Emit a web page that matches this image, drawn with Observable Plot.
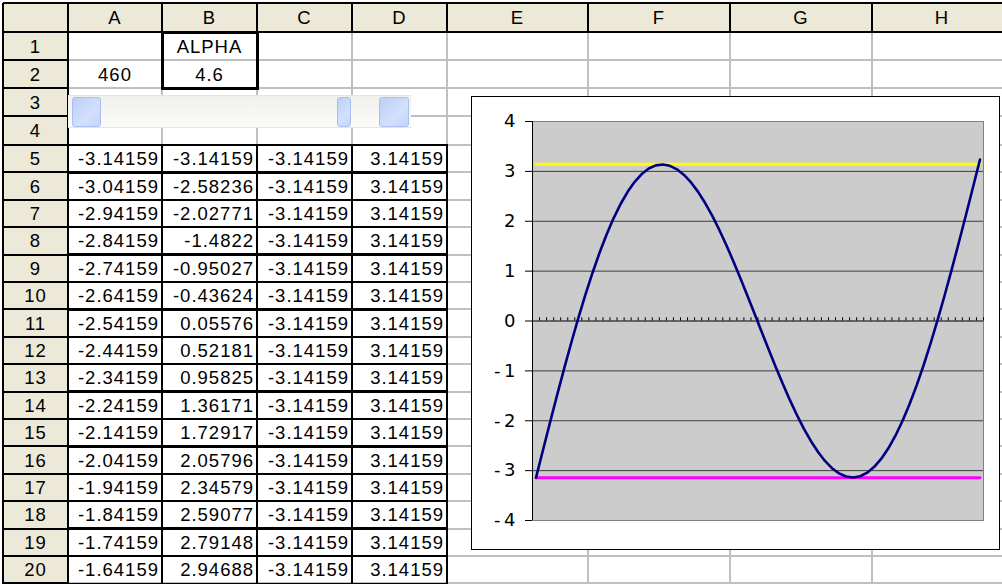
<!DOCTYPE html>
<html>
<head>
<meta charset="utf-8">
<script src="https://cdn.jsdelivr.net/npm/d3@7"></script>
<script src="https://cdn.jsdelivr.net/npm/@observablehq/plot@0.6"></script>
<style>
  body { margin: 0; background: #fff; }
  #sheet {
    position: relative; width: 1002px; height: 584px; overflow: hidden;
    font-family: "Liberation Sans", Arial, sans-serif; font-size: 18.5px;
    letter-spacing: 1px; color: #000;
  }
  .abs { position: absolute; box-sizing: border-box; }
  #chart { position: absolute; left: 471px; top: 96px; border: 1px solid #000; background: #fff; line-height: 0; }
</style>
</head>
<body>
<div id="sheet"></div>
<script>
// ---- worksheet contents ----
const columnLetters = ["A", "B", "C", "D", "E", "F", "G", "H"];
const rowNumbers = [1, 2, 3, 4, 5, 6, 7, 8, 9, 10, 11, 12, 13, 14, 15, 16, 17, 18, 19, 20];
const alphaLabel = "ALPHA";
const alpha = 4.6;
const sliderValue = 460;

// column A: angle samples
const colA = [
  -3.14159, -3.04159, -2.94159, -2.84159, -2.74159, -2.64159, -2.54159, -2.44159,
  -2.34159, -2.24159, -2.14159, -2.04159, -1.94159, -1.84159, -1.74159, -1.64159,
  -1.54159, -1.44159, -1.34159, -1.24159, -1.14159, -1.04159, -0.94159, -0.84159,
  -0.74159, -0.64159, -0.54159, -0.44159, -0.34159, -0.24159, -0.14159, -0.04159,
  0.05841, 0.15841, 0.25841, 0.35841, 0.45841, 0.55841, 0.65841, 0.75841,
  0.85841, 0.95841, 1.05841, 1.15841, 1.25841, 1.35841, 1.45841, 1.55841,
  1.65841, 1.75841, 1.85841, 1.95841, 2.05841, 2.15841, 2.25841, 2.35841,
  2.45841, 2.55841, 2.65841, 2.75841, 2.85841, 2.95841, 3.05841, 3.15841
];
// column B: curve values
const colB = [
  -3.14159, -2.58236, -2.02771, -1.4822, -0.95027, -0.43624, 0.05576, 0.52181,
  0.95825, 1.36171, 1.72917, 2.05796, 2.34579, 2.59077, 2.79148, 2.94688,
  3.05645, 3.12007, 3.13811, 3.11139, 3.04118, 2.92917, 2.77749, 2.58865,
  2.36554, 2.11138, 1.82972, 1.52436, 1.19936, 0.85896, 0.50756, 0.14968,
  -0.21011, -0.56722, -0.91708, -1.25519, -1.57718, -1.87884, -2.15614, -2.40532,
  -2.62288, -2.80567, -2.95084, -3.05595, -3.11896, -3.13823, -3.11257, -3.04124,
  -2.92395, -2.76087, -2.55264, -2.30034, -2.00548, -1.67002, -1.29631, -0.88708,
  -0.44542, 0.02526, 0.52124, 1.03858, 1.57310, 2.12046, 2.67620, 3.23575
];
// columns C and D: lower and upper bounds
const lowerBound = -3.14159;
const upperBound = 3.14159;
const colC = colA.map(() => lowerBound);
const colD = colA.map(() => upperBound);
const yTicks = [-4, -3, -2, -1, 0, 1, 2, 3, 4];

const rows = colA.map((a, i) => ({i, a, b: colB[i], c: colC[i], d: colD[i]}));
const visibleRows = rows.slice(0, 16); // rows 5..20 of the sheet

// ---- worksheet layout ----
const colEdges = [3, 68, 162, 257, 352, 447, 588, 730, 872, 1012];
const headerBottom = 32;
const topRowEdges = [32, 60, 88, 116, 145];
const rowHeight = 27.4;
const rowTop = r => r <= 4 ? topRowEdges[r - 1] : 145 + (r - 5) * rowHeight;
const rowBottom = r => r <= 4 ? topRowEdges[r] : 145 + (r - 4) * rowHeight;
const colLeft = c => colEdges[c + 1];
const colRight = c => colEdges[c + 2];

const sheet = document.getElementById("sheet");
function box(x0, y0, x1, y1, css = {}) {
  const el = document.createElement("div");
  el.className = "abs";
  Object.assign(el.style, {left: x0 + "px", top: y0 + "px", width: (x1 - x0) + "px", height: (y1 - y0) + "px"}, css);
  sheet.appendChild(el);
  return el;
}
const hline = (x0, x1, y, color, w) => box(x0, y - w / 2, x1, y + w / 2, {background: color});
const vline = (x, y0, y1, color, w) => box(x - w / 2, y0, x + w / 2, y1, {background: color});
function label(text, x0, y0, x1, y1, align = "center") {
  const el = box(x0, y0, x1, y1, {
    display: "flex", alignItems: "center", whiteSpace: "nowrap",
    justifyContent: align === "right" ? "flex-end" : "center",
    paddingRight: align === "right" ? "1px" : "0", paddingTop: "1px"
  });
  el.textContent = text;
  return el;
}
const fmt = v => String(+v.toFixed(5));

// header backgrounds
box(3, 3, 1002, headerBottom, {background: "#ECE9D8"});
box(3, headerBottom, colEdges[1], 584, {background: "#ECE9D8"});

// cell gridlines
const grid = "#C0C0C0";
colEdges.slice(2).forEach(x => vline(x, headerBottom, 584, grid, 2));
rowNumbers.forEach(r => hline(colEdges[1], 1002, rowBottom(r), grid, 2));

// header separators
colEdges.slice(2).forEach(x => vline(x, 3, headerBottom, "#000", 2));
rowNumbers.forEach(r => hline(3, colEdges[1], rowBottom(r), "#000", 2));
hline(3, 1002, 3, "#000", 2);
vline(3, 3, 584, "#000", 2);
hline(3, 1002, headerBottom, "#000", 2.5);
vline(colEdges[1], 3, 584, "#000", 2.5);

// header labels
columnLetters.forEach((c, k) => label(c, colLeft(k), 3, colRight(k), headerBottom));
rowNumbers.forEach(r => label(String(r), 3, rowTop(r), colEdges[1], rowBottom(r)));

// B1:B2 bordered block
box(colLeft(1) - 1.5, rowTop(1) - 1.5, colRight(1) + 1.5, rowBottom(2) + 1.5, {border: "3px solid #000"});
label(alphaLabel, colLeft(1), rowTop(1), colRight(1), rowBottom(1));
label(fmt(alpha), colLeft(1), rowTop(2), colRight(1), rowBottom(2));
label(String(sliderValue), colLeft(0), rowTop(2), colRight(0), rowBottom(2));

// bordered data block A5:D20
visibleRows.forEach((row, k) => {
  const r = 5 + k;
  [row.a, row.b, row.c, row.d].forEach((v, c) => {
    box(colLeft(c) - 1.25, rowTop(r) - 1.25, colRight(c) + 1.25, rowBottom(r) + 1.25, {border: "2.5px solid #000"});
    label(fmt(v), colLeft(c), rowTop(r), colRight(c) - 2, rowBottom(r), "right");
  });
});

// scroll bar control over rows 3-4
box(68, 95, 411, 128, {background: "linear-gradient(#f1f0eb, #fbfbf9)", borderTop: "1px solid #e6e5df", borderBottom: "1px solid #e6e5df"});
const knob = {background: "linear-gradient(135deg, #bccff8, #d3e0fc 60%, #c4d5fa)", border: "1px solid #a9bff0", borderRadius: "3px"};
box(72, 97, 101, 127, knob);
box(337, 97, 351, 127, knob);
box(379, 97, 409, 127, knob);

// ---- embedded line chart ----
const boundaries = [-0.5, ...rows.map(d => d.i + 0.5)];
const chart = Plot.plot({
  width: 527,
  height: 452,
  marginLeft: 60,
  marginRight: 16,
  marginTop: 24,
  marginBottom: 29,
  x: {domain: [-0.5, rows.length - 0.5], axis: null},
  y: {domain: [-4, 4], axis: null},
  style: {fontFamily: "'DejaVu Sans', Verdana, sans-serif", fontSize: "18px", background: "#fff", color: "#000", letterSpacing: "0"},
  marks: [
    Plot.frame({fill: "#cccccc", stroke: "#808080"}),
    Plot.ruleY(yTicks.filter(t => t > -4 && t < 4 && t !== 0), {stroke: "#3c3c3c", strokeWidth: 1}),
    Plot.ruleY([0], {stroke: "#000", strokeWidth: 1}),
    Plot.ruleX(boundaries, {x: d => d, y1: 0, y2: 0.065, stroke: "#000", strokeWidth: 1}),
    Plot.ruleX([-0.5], {stroke: "#000", strokeWidth: 1}),
    Plot.axisY(yTicks, {
      tickSize: 7, tickPadding: 10, stroke: "#000", fontSize: 18,
      tickFormat: t => t < 0 ? "-\u2009" + (-t) : String(t)
    }),
    Plot.line(rows, {x: "i", y: "c", stroke: "#ff00ff", strokeWidth: 3}),
    Plot.line(rows, {x: "i", y: "d", stroke: "#ffff00", strokeWidth: 3}),
    Plot.line(rows, {x: "i", y: "b", stroke: "#000080", strokeWidth: 2.6, strokeLinejoin: "round"})
  ]
});
const holder = document.createElement("div");
holder.id = "chart";
holder.appendChild(chart);
sheet.appendChild(holder);
</script>
</body>
</html>
